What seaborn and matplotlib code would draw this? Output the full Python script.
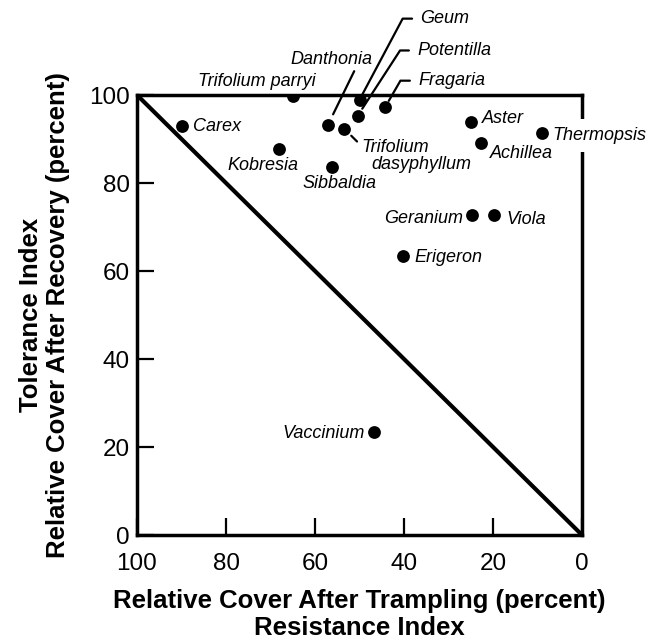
import matplotlib
matplotlib.use('Agg')
import matplotlib.pyplot as plt
import seaborn as sns
import pandas as pd

# ---- data ----
species = ["Trifolium parryi", "Carex", "Kobresia", "Sibbaldia", "Danthonia",
           "Trifolium dasyphyllum", "Geum", "Potentilla", "Fragaria", "Aster",
           "Achillea", "Thermopsis", "Geranium", "Viola", "Erigeron", "Vaccinium"]
resistance = [64.9, 89.8, 68.2, 56.2, 57.1, 53.4, 50.0, 50.4, 44.2, 25.0,
              22.7, 9.1, 24.8, 19.7, 40.2, 46.7]
tolerance = [99.8, 93.0, 87.7, 83.7, 93.2, 92.3, 98.9, 95.3, 97.3, 93.9,
             89.0, 91.4, 72.7, 72.7, 63.4, 23.3]
diag_x = [100, 0]
diag_y = [100, 0]
x_ticks = [100, 80, 60, 40, 20, 0]
y_ticks = [0, 20, 40, 60, 80, 100]
x_label = "Relative Cover After Trampling (percent)\nResistance Index"
y_label = "Tolerance Index\nRelative Cover After Recovery (percent)"

df = pd.DataFrame({"species": species, "resistance": resistance, "tolerance": tolerance})

# ---- layout (label offsets in pixels relative to each dot) ----
plain_layout = {
    "Trifolium parryi": (-95, 10, "left"),
    "Carex": (10.7, -5.7, "left"),
    "Kobresia": (-51.3, -20.7, "left"),
    "Sibbaldia": (-29.7, -21.6, "left"),
    "Aster": (11.3, -1.6, "left"),
    "Achillea": (9, -15, "left"),
    "Geranium": (-8.4, -7.7, "right"),
    "Viola": (12.4, -9, "left"),
    "Erigeron": (11, -5.7, "left"),
    "Vaccinium": (-9.3, -6, "right"),
}

sns.set_style("ticks")
plt.rcParams["font.family"] = ["Liberation Sans", "DejaVu Sans"]
plt.rcParams["text.color"] = "black"
plt.rcParams["axes.labelcolor"] = "black"

fig = plt.figure(figsize=(6.5, 6.41), dpi=100)
ax = fig.add_axes([137 / 650, 1 - 535 / 641, 445 / 650, 440 / 641])

sns.lineplot(x=diag_x, y=diag_y, ax=ax, color="black", linewidth=3.0, zorder=2)
sns.scatterplot(data=df, x="resistance", y="tolerance", ax=ax, s=85,
                color="black", edgecolor="black", linewidth=0, zorder=6)

ax.set_xlim(100, 0)
ax.set_ylim(0, 100)
ax.set_xticks(x_ticks)
ax.set_yticks(y_ticks)
ax.set_xticklabels([str(v) for v in x_ticks])
ax.set_yticklabels([str(v) for v in y_ticks])
ax.tick_params(axis="both", direction="in", length=12, width=1.6,
               labelsize=17.5, colors="black")
ax.tick_params(axis="x", pad=13)
ax.tick_params(axis="y", pad=5)
for s in ax.spines.values():
    s.set_visible(True)
    s.set_linewidth(2.5)
    s.set_color("black")

ax.set_xlabel(x_label, fontsize=18.5, fontweight="bold", linespacing=1.17,
              labelpad=10, color="black")
ax.set_ylabel(y_label, fontsize=18.5, fontweight="bold", linespacing=1.15,
              labelpad=14, color="black")

lbl_kw = dict(fontsize=13, fontstyle="italic", color="black",
              textcoords="offset pixels", va="baseline", annotation_clip=False)

pts = {n: (x, y) for n, x, y in zip(species, resistance, tolerance)}

for name, (dx, dy, ha) in plain_layout.items():
    ax.annotate(name, xy=pts[name], xytext=(dx, dy), ha=ha, zorder=7, **lbl_kw)

# Thermopsis label with white box interrupting the right spine
ax.annotate("Thermopsis", xy=pts["Thermopsis"], xytext=(11, -7.3), ha="left",
            zorder=3, bbox=dict(boxstyle="square,pad=0.45", fc="white", ec="none"),
            **lbl_kw)

lead = dict(arrowstyle="-", color="black", linewidth=1.6)

# Geum, Potentilla, Fragaria: angled leaders
for name, (dx, dy), angB, shB in [("Geum", (60.7, 76.7), 62, 2),
                                  ("Potentilla", (59.3, 60.7), 57, 6),
                                  ("Fragaria", (32.7, 21.7), 60, 5)]:
    ax.annotate(name, xy=pts[name], xytext=(dx, dy), ha="left", zorder=7,
                arrowprops=dict(connectionstyle=f"angle,angleA=0,angleB={angB},rad=0",
                                relpos=(0, 0.5), shrinkA=3.5, shrinkB=shB, **lead),
                **lbl_kw)

# Danthonia: straight leader
ax.annotate("Danthonia", xy=pts["Danthonia"], xytext=(-37.7, 61), ha="left", zorder=7,
            arrowprops=dict(relpos=(0.8, 0), shrinkA=0, shrinkB=8.5, **lead),
            **lbl_kw)

# Trifolium dasyphyllum: two lines, straight leader
ax.annotate("Trifolium", xy=pts["Trifolium dasyphyllum"], xytext=(17.4, -22.7),
            ha="left", zorder=7,
            arrowprops=dict(relpos=(0, 0.55), shrinkA=1.5, shrinkB=7, **lead),
            **lbl_kw)
ax.annotate("dasyphyllum", xy=pts["Trifolium dasyphyllum"], xytext=(27.4, -40.5),
            ha="left", zorder=7, **lbl_kw)

fig.savefig("out.png", dpi=100, facecolor="white")
